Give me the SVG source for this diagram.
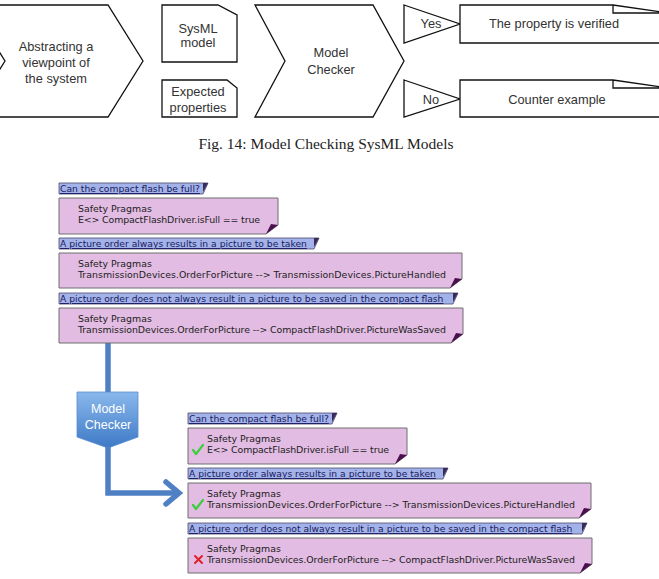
<svg xmlns="http://www.w3.org/2000/svg" width="659" height="579" viewBox="0 0 659 579">
<style>
.sh{fill:#fff;stroke:#111;stroke-width:1.3;stroke-linejoin:miter}
.tt{font-family:"Liberation Sans",Arial,sans-serif;font-size:12.8px;fill:#333;text-anchor:middle}
.cap{font-family:"Liberation Serif","Times New Roman",serif;font-size:15.5px;fill:#222;text-anchor:middle}
.tab{fill:#a3b3ea;stroke:#4a4a6a;stroke-width:0.8}
.tabc{fill:#3a2a5a}
.tabt{font-family:"DejaVu Sans",sans-serif;font-size:9.2px;fill:#1a1a60;text-decoration:underline}
.box{fill:#e3bce3;stroke:#6e6e6e;stroke-width:1}
.boxc{fill:#4a0f4f}
.bt{font-family:"DejaVu Sans",sans-serif;font-size:9.4px;fill:#222}
.ok{fill:none;stroke:#3ccf3c;stroke-width:2.2;stroke-linecap:round;stroke-linejoin:round}
.ko{fill:none;stroke:#e0202a;stroke-width:2;stroke-linecap:round}
.blue{fill:none;stroke:#4f80c4;stroke-width:5.5;stroke-linejoin:miter}
</style>
<defs>
<linearGradient id="mcg" x1="0" y1="0" x2="0" y2="1">
<stop offset="0" stop-color="#8ab8ec"/>
<stop offset="1" stop-color="#3d79c6"/>
</linearGradient>
</defs>
<rect width="659" height="579" fill="#fff"/>

<g id="abstracting">
<polygon class="sh" points="-30,5 108,5 143,61 108,117 -30,117 5,61"/>
<text class="tt" x="56" y="51">Abstracting a</text>
<text class="tt" x="56" y="67">viewpoint of</text>
<text class="tt" x="56" y="83">the system</text>
</g>
<g id="sysml-model">
<polygon class="sh" points="162,5 218,5 237,15 237,62 162,62"/>
<text class="tt" x="198" y="33">SysML</text>
<text class="tt" x="198" y="47">model</text>
</g>
<g id="expected-properties">
<polygon class="sh" points="162,80 227,80 237,88 237,117 162,117"/>
<text class="tt" x="198" y="96">Expected</text>
<text class="tt" x="198" y="112">properties</text>
</g>
<g id="model-checker-top">
<polygon class="sh" points="255,5 373,5 404,61 373,117 255,117 285,61"/>
<text class="tt" x="331" y="57">Model</text>
<text class="tt" x="331" y="74">Checker</text>
</g>
<g id="yes">
<polygon class="sh" points="404,5 460,24 404,43"/>
<text class="tt" x="431" y="28">Yes</text>
</g>
<g id="verified">
<path class="sh" d="M613,5 H460 V43 H662"/>
<path class="sh" d="M613,5 V13 H662 M613,5 L662,12"/>
<text class="tt" x="554" y="28">The property is verified</text>
</g>
<g id="no">
<polygon class="sh" points="404,80 460,99 404,117"/>
<text class="tt" x="431" y="104">No</text>
</g>
<g id="counter-example">
<path class="sh" d="M613,80 H460 V117 H662"/>
<path class="sh" d="M613,80 V88 H662 M613,80 L662,87"/>
<text class="tt" x="557" y="104">Counter example</text>
</g>

<text class="cap" x="326" y="149">Fig. 14: Model Checking SysML Models</text>

<g id="connectors">
<path class="blue" d="M108,343 V493 H178"/>
<polyline class="blue" points="166,482 179,493 166,504" stroke-linecap="round"/>
</g>

<g id="model-checker">
<polygon points="77,392 138,392 138,437 108,448 77,437" fill="url(#mcg)" stroke="#5a8ad0" stroke-width="0.8"/>
<text x="108" y="413" font-family="Liberation Sans,Arial,sans-serif" font-size="12.5" fill="#fff" text-anchor="middle">Model</text>
<text x="108" y="429" font-family="Liberation Sans,Arial,sans-serif" font-size="12.5" fill="#fff" text-anchor="middle">Checker</text>
</g>

<g id="queries-before">
<g id="q1">
<path class="tab" d="M59,183 H208 L203,194 H59 Z"/>
<path class="tabc" d="M203,183 H208 L203,192 Z"/>
<text class="tabt" x="60" y="192">Can the compact flash be full?</text>
<path class="box" d="M59,198 H278 V225 L266,234 H59 Z"/>
<path class="boxc" d="M266,234 L278,225 L271,224 Z"/>
<text class="bt" x="78" y="212">Safety Pragmas</text>
<text class="bt" x="78" y="223" textLength="182" lengthAdjust="spacing">E&lt;&gt; CompactFlashDriver.isFull == true</text>
</g>
<g id="q2">
<path class="tab" d="M59,238 H319 L314,249 H59 Z"/>
<path class="tabc" d="M314,238 H319 L314,247 Z"/>
<text class="tabt" x="60" y="247">A picture order always results in a picture to be taken</text>
<path class="box" d="M59,253 H462 V279 L450,288 H59 Z"/>
<path class="boxc" d="M450,288 L462,279 L455,278 Z"/>
<text class="bt" x="78" y="267">Safety Pragmas</text>
<text class="bt" x="78" y="278" textLength="368" lengthAdjust="spacing">TransmissionDevices.OrderForPicture --&gt; TransmissionDevices.PictureHandled</text>
</g>
<g id="q3">
<path class="tab" d="M59,293 H458 L453,304 H59 Z"/>
<path class="tabc" d="M453,293 H458 L453,302 Z"/>
<text class="tabt" x="60" y="302">A picture order does not always result in a picture to be saved in the compact flash</text>
<path class="box" d="M59,308 H463 V334 L451,343 H59 Z"/>
<path class="boxc" d="M451,343 L463,334 L456,333 Z"/>
<text class="bt" x="78" y="322">Safety Pragmas</text>
<text class="bt" x="78" y="333" textLength="368" lengthAdjust="spacing">TransmissionDevices.OrderForPicture --&gt; CompactFlashDriver.PictureWasSaved</text>
</g>
</g>

<g id="queries-after" transform="translate(129,230)">
<g id="r1">
<path class="tab" d="M59,183 H208 L203,194 H59 Z"/>
<path class="tabc" d="M203,183 H208 L203,192 Z"/>
<text class="tabt" x="60" y="192">Can the compact flash be full?</text>
<path class="box" d="M59,198 H278 V225 L266,234 H59 Z"/>
<path class="boxc" d="M266,234 L278,225 L271,224 Z"/>
<text class="bt" x="78" y="212">Safety Pragmas</text>
<path class="ok" d="M64,220 L67,224 L74,215"/>
<text class="bt" x="78" y="223" textLength="182" lengthAdjust="spacing">E&lt;&gt; CompactFlashDriver.isFull == true</text>
</g>
<g id="r2">
<path class="tab" d="M59,238 H319 L314,249 H59 Z"/>
<path class="tabc" d="M314,238 H319 L314,247 Z"/>
<text class="tabt" x="60" y="247">A picture order always results in a picture to be taken</text>
<path class="box" d="M59,253 H462 V279 L450,288 H59 Z"/>
<path class="boxc" d="M450,288 L462,279 L455,278 Z"/>
<text class="bt" x="78" y="267">Safety Pragmas</text>
<path class="ok" d="M64,275 L67,279 L74,270"/>
<text class="bt" x="78" y="278" textLength="368" lengthAdjust="spacing">TransmissionDevices.OrderForPicture --&gt; TransmissionDevices.PictureHandled</text>
</g>
<g id="r3">
<path class="tab" d="M59,293 H458 L453,304 H59 Z"/>
<path class="tabc" d="M453,293 H458 L453,302 Z"/>
<text class="tabt" x="60" y="302">A picture order does not always result in a picture to be saved in the compact flash</text>
<path class="box" d="M59,308 H463 V334 L451,343 H59 Z"/>
<path class="boxc" d="M451,343 L463,334 L456,333 Z"/>
<text class="bt" x="78" y="322">Safety Pragmas</text>
<path class="ko" d="M66,326 L73,333 M73,326 L66,333"/>
<text class="bt" x="78" y="333" textLength="368" lengthAdjust="spacing">TransmissionDevices.OrderForPicture --&gt; CompactFlashDriver.PictureWasSaved</text>
</g>
</g>
</svg>
